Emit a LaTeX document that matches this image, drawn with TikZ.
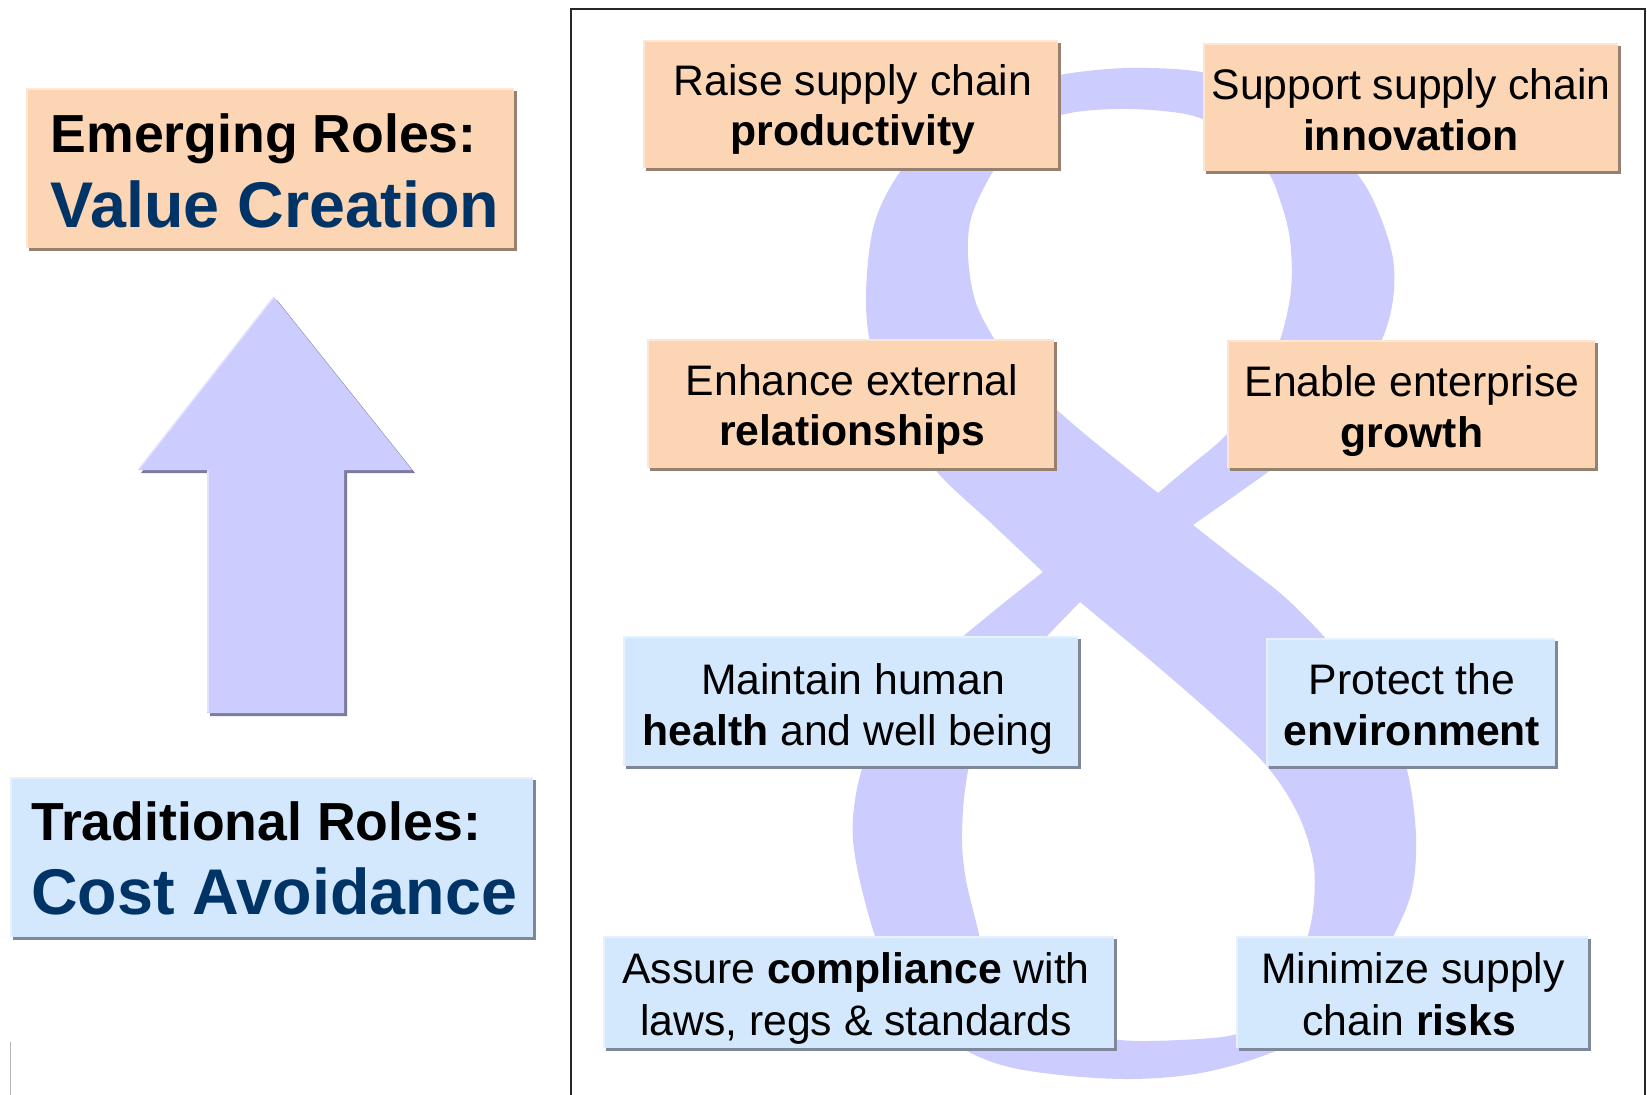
\documentclass[tikz,border=0pt]{standalone}
\usepackage{fontspec}
\setmainfont{Liberation Sans}
\usetikzlibrary{shadows}
\definecolor{peach}{HTML}{FCD5B4}
\definecolor{peachsh}{HTML}{968070}
\definecolor{peachhl}{HTML}{FDE6D4}
\definecolor{lblue}{HTML}{D3E7FD}
\definecolor{lbluesh}{HTML}{7E8899}
\definecolor{lbluehl}{HTML}{E6F1FE}
\definecolor{lav}{HTML}{CCCCFF}
\definecolor{lavsh}{HTML}{7B7B9C}
\definecolor{lavhl}{HTML}{E2E2FF}
\definecolor{navy}{HTML}{003366}
\tikzset{
  pbox/.style={fill=peach, draw=none, inner sep=0pt, copy shadow={shadow xshift=3pt, shadow yshift=-3pt, fill=peachsh, draw=none}},
  bbox/.style={fill=lblue, draw=none, inner sep=0pt, copy shadow={shadow xshift=3pt, shadow yshift=-3pt, fill=lbluesh, draw=none}},
  rtxt/.style={anchor=base, inner sep=0pt, font=\fontsize{42.7}{50}\selectfont},
  ltone/.style={anchor=base west, inner sep=0pt, font=\fontsize{53.6}{60}\selectfont\bfseries},
  lttwo/.style={anchor=base west, inner sep=0pt, text=navy, font=\fontsize{64.6}{70}\selectfont\bfseries},
  hlline/.style={line width=2pt},
}
\newcommand{\boxhl}[2]{\draw[hlline,#2] ([xshift=1pt]#1.south west) -- ([xshift=1pt,yshift=-1pt]#1.north west) -- ([yshift=-1pt]#1.north east);}
\begin{document}
\begin{tikzpicture}[x=1pt,y=-1pt]
\useasboundingbox (0,0) rectangle (1647,1095);
\fill[white] (0,0) rectangle (1647,1095);

% figure eight band
\fill[lav, even odd rule]
  plot[smooth, tension=0.55] coordinates {(1043,572) (990,522) (938,473) (898,415) (872,350) (866,295) (874,225) (900,172) (950,118) (1010,88) (1065,74) (1130,68) (1201,72) (1260,92) (1320,135) (1365,185) (1390,245) (1394,290) (1383,337) (1350,395) (1310,440) (1268,472) (1193,525)}
  -- plot[smooth, tension=0.55] coordinates {(1193,525) (1240,562) (1288,600) (1340,655) (1385,720) (1407,770) (1416,835) (1412,890) (1394,935) (1365,990) (1320,1030) (1257,1058) (1195,1074) (1130,1079) (1060,1075) (998,1064) (945,1038) (905,995) (880,950) (862,890) (853,840) (855,800) (865,760) (888,710) (925,668) (967,633) (1005,602) (1043,572)}
  -- cycle
  plot[smooth, tension=0.55] coordinates {(1158,493) (1190,466) (1227,434) (1258,390) (1280,340) (1291,290) (1290,240) (1280,200) (1265,168) (1225,132) (1190,115) (1130,109) (1070,113) (1025,130) (995,168) (972,215) (968,255) (975,300) (993,337) (1020,377) (1057,410) (1092,440) (1158,493)}
  -- cycle
  plot[smooth, tension=0.55] coordinates {(1080,602) (1115,631) (1150,660) (1210,712) (1265,764) (1297,812) (1313,860) (1314,900) (1308,935) (1290,985) (1260,1020) (1233,1035) (1180,1040) (1120,1040) (1060,1028) (1010,1000) (985,960) (978,930) (966,880) (962,840) (965,790) (975,745) (1005,680) (1047,636) (1080,602)}
  -- cycle;

% frame
\draw[line width=2pt, black!85] (571,1097) -- (571,9) -- (1645,9) -- (1645,1097);

% small grey line bottom left
\draw[line width=1.5pt, black!30] (10.7,1042) -- (10.7,1097);

% up arrow
\begin{scope}[shift={(3,3)}]
\fill[lavsh] (274,297) -- (412,470) -- (344,470) -- (344,713) -- (207,713) -- (207,470) -- (138,470) -- cycle;
\end{scope}
\fill[lav] (274,297) -- (412,470) -- (344,470) -- (344,713) -- (207,713) -- (207,470) -- (138,470) -- cycle;
\draw[lavhl, line width=1.5pt] (273,298) -- (139,469);
\draw[lavhl, line width=1.5pt] (208,471) -- (208,712);

% left boxes
\node[pbox, minimum width=488pt, minimum height=160pt] (em) at (270,168) {};
\boxhl{em}{peachhl}
\node[ltone] (em1) at (50.5,152) {Emerging Roles:};
\node[lttwo] (em2) at (50.5,227) {Value Creation};

\node[bbox, minimum width=523pt, minimum height=160pt] (tr) at (271.5,857) {};
\boxhl{tr}{lbluehl}
\node[ltone] (tr1) at (31,840) {Traditional Roles:};
\node[lttwo] (tr2) at (31,914) {Cost Avoidance};

% right boxes
\node[pbox, minimum width=415pt, minimum height=128pt] (b1) at (850.5,104) {};
\boxhl{b1}{peachhl}
\node[rtxt] (b1a) at (853,95.4) {Raise supply chain};
\node[rtxt] (b1b) at (853,145.6) {\textbf{productivity}};

\node[pbox, minimum width=415pt, minimum height=128pt] (b2) at (1410.5,107) {};
\boxhl{b2}{peachhl}
\node[rtxt] (b2a) at (1411,99.3) {Support supply chain};
\node[rtxt] (b2b) at (1411,150.2) {\textbf{innovation}};

\node[pbox, minimum width=407pt, minimum height=129pt] (b3) at (850.5,403.5) {};
\boxhl{b3}{peachhl}
\node[rtxt] (b3a) at (852,395.8) {Enhance external};
\node[rtxt] (b3b) at (852,445.6) {\textbf{relationships}};

\node[pbox, minimum width=368pt, minimum height=128pt] (b4) at (1411,404) {};
\boxhl{b4}{peachhl}
\node[rtxt] (b4a) at (1412,396.5) {Enable enterprise};
\node[rtxt] (b4b) at (1412,447.4) {\textbf{growth}};

\node[bbox, minimum width=455pt, minimum height=130pt] (b5) at (850.5,701) {};
\boxhl{b5}{lbluehl}
\node[rtxt] (b5a) at (853,694) {Maintain human};
\node[rtxt] (b5b) at (848,745.3) {\textbf{health} and well being};

\node[bbox, minimum width=289pt, minimum height=128pt] (b6) at (1410.5,702) {};
\boxhl{b6}{lbluehl}
\node[rtxt] (b6a) at (1412,694) {Protect the};
\node[rtxt] (b6b) at (1412,745) {\textbf{environment}};

\node[bbox, minimum width=511pt, minimum height=112pt] (b7) at (858.5,992) {};
\boxhl{b7}{lbluehl}
\node[rtxt] (b7a) at (856,983) {Assure \textbf{compliance} with};
\node[rtxt] (b7b) at (856,1035) {laws, regs \& standards};

\node[bbox, minimum width=352pt, minimum height=112pt] (b8) at (1412,992) {};
\boxhl{b8}{lbluehl}
\node[rtxt] (b8a) at (1413,983) {Minimize supply};
\node[rtxt] (b8b) at (1409,1035) {chain \textbf{risks}};
\end{tikzpicture}
\end{document}
